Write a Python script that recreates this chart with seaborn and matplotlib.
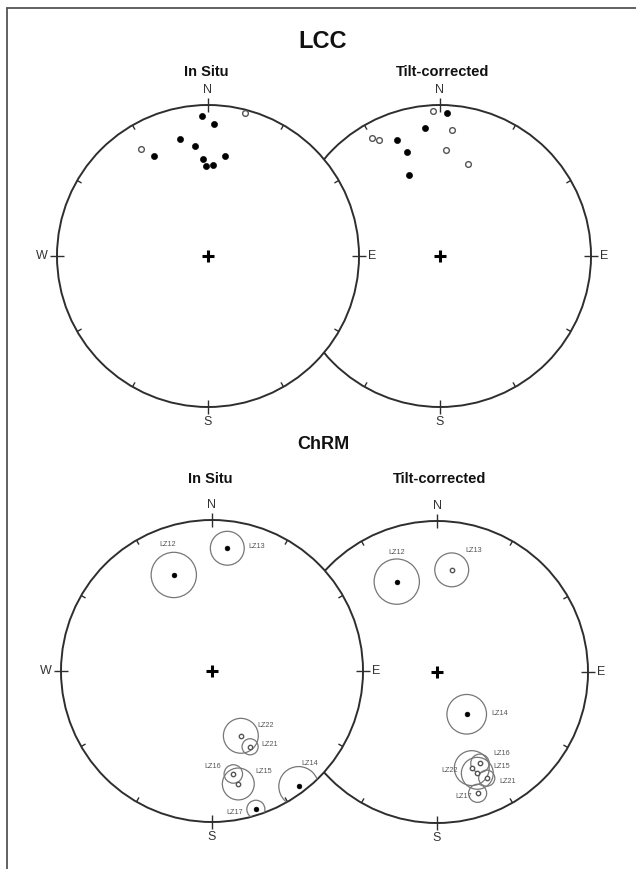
import numpy as np
import pandas as pd
import matplotlib
matplotlib.use("Agg")
import matplotlib.pyplot as plt
from matplotlib.patches import Circle
from matplotlib.lines import Line2D
import seaborn as sns

sns.set_theme(style="white")
plt.rcParams['font.family'] = ['Liberation Sans', 'DejaVu Sans']

# ---- LCC component: site directions (declination, inclination) in degrees ----
lcc_insitu_dec = [357.4, 2.7, 346.5, 353.3, 331.6, 357.2, 358.7, 3.3, 9.5, 327.8, 14.6]
lcc_insitu_inc = [8.0, 13.5, 21.6, 27.4, 25.8, 36.1, 40.1, 39.3, 33.4, -17.4, -2.4]
lcc_tilt_dec = [357.1, 2.7, 353.4, 5.6, 330.2, 332.3, 339.5, 342.6, 3.1, 16.7, 339.2]
lcc_tilt_inc = [-4.3, 5.6, 16.0, -17.2, -10.6, -14.2, 19.1, 28.4, -30.5, -36.4, 42.2]

# ---- ChRM site means with alpha95 confidence cones ----
chrm_sites = ['LZ12', 'LZ13', 'LZ14', 'LZ15', 'LZ16', 'LZ17', 'LZ21', 'LZ22']
chrm_a95 = [13.5, 10.1, 11.8, 9.5, 5.5, 5.4, 4.8, 10.4]
chrm_insitu_dec = [338.3, 7.1, 143.1, 166.9, 168.3, 162.4, 153.3, 156.0]
chrm_insitu_inc = [32.1, 19.2, 5.0, -24.2, -31.0, 4.4, -43.2, -51.2]
chrm_tilt_dec = [336.0, 8.2, 144.9, 158.3, 154.8, 161.5, 154.9, 160.1]
chrm_tilt_inc = [34.8, -32.2, 62.0, -28.6, -33.6, -16.4, -23.4, -32.8]

# label offsets for site names (pixels: right, down)
insitu_label_off = {'LZ12': (-6, -30), 'LZ13': (29, -2), 'LZ14': (11, -23), 'LZ15': (25, -12),
                    'LZ16': (-21, -7), 'LZ17': (-21, 3), 'LZ21': (20, -2), 'LZ22': (25, -10)}
tilt_label_off = {'LZ12': (0, -29), 'LZ13': (22, -19), 'LZ14': (33, -1), 'LZ15': (24, -7),
                  'LZ16': (22, -10), 'LZ17': (-14, 3), 'LZ21': (21, 3), 'LZ22': (-22, 2)}

W, H = 636, 869
R_PX = 151.0
fig = plt.figure(figsize=(W / 100, H / 100), dpi=100)
fig.patch.set_facecolor('white')

LINE = '#2e2e2e'


def equal_area(dec, inc):
    dec = np.radians(np.asarray(dec, float))
    inc = np.asarray(inc, float)
    r = np.sqrt(2.0) * np.sin(np.radians(90.0 - np.abs(inc)) / 2.0)
    return r * np.sin(dec), r * np.cos(dec)


def net_axes(cx, cy, z):
    L = 1.25 * R_PX
    ax = fig.add_axes([(cx - L) / W, 1 - (cy + L) / H, 2 * L / W, 2 * L / H])
    ax.set_zorder(z)
    return ax


def draw_net(ax):
    prim = Circle((0, 0), 1, facecolor='white', edgecolor=LINE, lw=1.4, zorder=1)
    ax.add_patch(prim)
    for az in range(0, 360, 30):
        a = np.radians(az)
        if az % 90 == 0:
            r0, r1 = 1 - 7 / R_PX, 1 + 7 / R_PX
        else:
            r0, r1 = 1 - 5 / R_PX, 1.0
        ax.plot([r0 * np.sin(a), r1 * np.sin(a)], [r0 * np.cos(a), r1 * np.cos(a)],
                color=LINE, lw=1.0, zorder=2, solid_capstyle='butt')
    d = 1 + 9 / R_PX
    kw = dict(fontsize=9, color='#333333', zorder=4)
    ax.text(0, d, 'N', ha='center', va='bottom', **kw)
    ax.text(0, -d, 'S', ha='center', va='top', **kw)
    ax.text(d, 0, 'E', ha='left', va='center', **kw)
    ax.text(-d, 0, 'W', ha='right', va='center', **kw)
    ax.plot([0], [0], marker='+', ms=8, mew=2.2, color='black', zorder=4)
    return prim


def finish(ax):
    ax.set_xlim(-1.25, 1.25)
    ax.set_ylim(-1.25, 1.25)
    ax.set_aspect('equal')
    ax.axis('off')


def plot_dirs(ax, dec, inc, s_fill, s_open):
    x, y = equal_area(dec, inc)
    df = pd.DataFrame({'x': x, 'y': y, 'lower': np.asarray(inc) >= 0})
    sns.scatterplot(data=df[df['lower']], x='x', y='y', ax=ax, color='black',
                    s=s_fill, edgecolor='black', linewidth=0.4, zorder=5, legend=False)
    sns.scatterplot(data=df[~df['lower']], x='x', y='y', ax=ax, color='white',
                    s=s_open, edgecolor='#555555', linewidth=1.0, zorder=5, legend=False)
    return x, y


def plot_chrm(ax, dec, inc, prim, offsets):
    x, y = plot_dirs(ax, dec, inc, 12, 10)
    for xi, yi, a95, site in zip(x, y, chrm_a95, chrm_sites):
        c = Circle((xi, yi), a95 / 90.0, fill=False, edgecolor='#777777', lw=0.9, zorder=3)
        ax.add_patch(c)
        c.set_clip_path(prim)
        dx, dy = offsets[site]
        ax.text(xi + dx / R_PX, yi - dy / R_PX, site, fontsize=5.2, color='#555555',
                ha='center', va='center', zorder=6)


# ---- LCC ----
ax_tr = net_axes(440, 256, 1)
prim = draw_net(ax_tr)
plot_dirs(ax_tr, lcc_tilt_dec, lcc_tilt_inc, 20, 17)
finish(ax_tr)

ax_tl = net_axes(208, 256, 2)
prim = draw_net(ax_tl)
plot_dirs(ax_tl, lcc_insitu_dec, lcc_insitu_inc, 20, 17)
finish(ax_tl)

# ---- ChRM ----
ax_br = net_axes(437, 672, 1)
prim = draw_net(ax_br)
plot_chrm(ax_br, chrm_tilt_dec, chrm_tilt_inc, prim, tilt_label_off)
finish(ax_br)

ax_bl = net_axes(212, 671, 2)
prim = draw_net(ax_bl)
plot_chrm(ax_bl, chrm_insitu_dec, chrm_insitu_inc, prim, insitu_label_off)
finish(ax_bl)


# ---- titles ----
def ftext(x, y, s, **kw):
    fig.text(x / W, 1 - y / H, s, ha='center', va='center', color='#111111', **kw)


ftext(323, 42, 'LCC', fontsize=17, fontweight='bold')
ftext(206, 72, 'In Situ', fontsize=10.5, fontweight='bold')
ftext(443, 72, 'Tilt-corrected', fontsize=10.5, fontweight='bold')
ftext(323, 444, 'ChRM', fontsize=13, fontweight='bold')
ftext(210, 479, 'In Situ', fontsize=10.5, fontweight='bold')
ftext(440, 479, 'Tilt-corrected', fontsize=10.5, fontweight='bold')

# frame lines along the left and top edges
fig.add_artist(Line2D([7 / W, 7 / W], [0, 1 - 8 / H], transform=fig.transFigure,
                      color='#555555', lw=1.3))
fig.add_artist(Line2D([7 / W, 1], [1 - 8 / H, 1 - 8 / H], transform=fig.transFigure,
                      color='#555555', lw=1.3))

fig.savefig('out.png', dpi=100, facecolor='white')
